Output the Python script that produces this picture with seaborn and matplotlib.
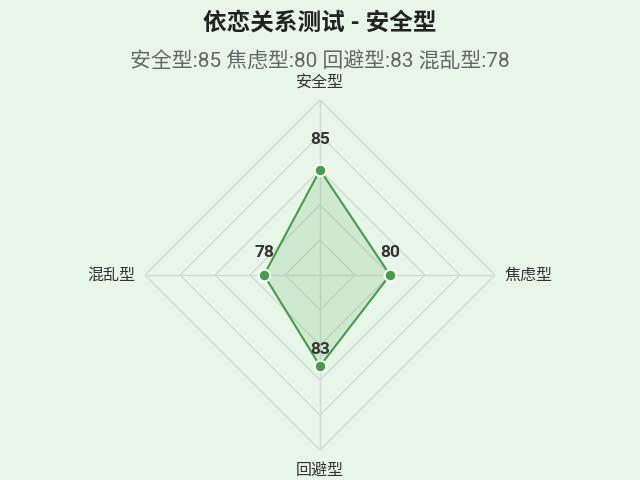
import numpy as np
import matplotlib
matplotlib.use("Agg")
import matplotlib.pyplot as plt
import seaborn as sns

categories = ['安全型', '焦虑型', '回避型', '混乱型']
scores = [85, 80, 83, 78]
r_min, r_max = 70, 95
ring_levels = [75, 80, 85, 90, 95]
label_offsets = [22, 16, 12, 16]  # points above each marker

title = '依恋关系测试 - 安全型'
subtitle = ' '.join(f'{c}:{v}' for c, v in zip(categories, scores))

sns.set_theme(style='white')
plt.rcParams['font.family'] = ['Roboto', 'Noto Sans CJK SC', 'DejaVu Sans']

bg = '#e8f5e9'
green = '#43a047'
grid_col = '#d2dbd2'

fig = plt.figure(figsize=(6.4, 4.8), dpi=100, facecolor=bg)
ax = fig.add_axes([0.5 - 175 / 640, 1 - (275 + 175) / 480, 350 / 640, 350 / 480],
                  projection='polar', facecolor=bg)
ax.set_theta_zero_location('N')
ax.set_theta_direction(-1)
ax.set_ylim(r_min, r_max)
ax.grid(False)
ax.spines['polar'].set_visible(False)
ax.set_xticks([])
ax.set_yticks([])

angles = np.linspace(0, 2 * np.pi, len(categories), endpoint=False)
closed = np.append(angles, angles[0])

# polygon grid rings and spokes
for lvl in ring_levels:
    ax.plot(closed, [lvl] * len(closed), color=grid_col, lw=1, zorder=1)
for a in angles:
    ax.plot([a, a], [r_min, r_max], color=grid_col, lw=1, zorder=1)

vals = np.append(scores, scores[0])
ax.fill(closed, vals, color=green, alpha=0.15, zorder=2)
ax.plot(closed, vals, color=green, lw=1.5, zorder=3)
ax.scatter(angles, scores, s=70, color=green, edgecolor='white', linewidth=1.5, zorder=4)

for a, v, off in zip(angles, scores, label_offsets):
    ax.annotate(str(v), (a, v), xytext=(0, off), textcoords='offset points',
                ha='center', va='center', fontsize=12.5, fontweight='bold', color='#333333')

# axis name labels
ax.annotate(categories[0], (angles[0], r_max), xytext=(0, 12), textcoords='offset points',
            ha='center', va='center', fontsize=11.5, color='#333333')
ax.annotate(categories[1], (angles[1], r_max), xytext=(7, 0), textcoords='offset points',
            ha='left', va='center', fontsize=11.5, color='#333333')
ax.annotate(categories[2], (angles[2], r_max), xytext=(0, -15), textcoords='offset points',
            ha='center', va='center', fontsize=11.5, color='#333333')
ax.annotate(categories[3], (angles[3], r_max), xytext=(-7, 0), textcoords='offset points',
            ha='right', va='center', fontsize=11.5, color='#333333')

fig.text(0.5, 1 - 23 / 480, title, ha='center', va='center', fontsize=17,
         fontweight='bold', color='#222222')
fig.text(0.5, 1 - 61 / 480, subtitle, ha='center', va='center', fontsize=15,
         color='#666666')

fig.savefig('out.png', dpi=100, facecolor=bg)
